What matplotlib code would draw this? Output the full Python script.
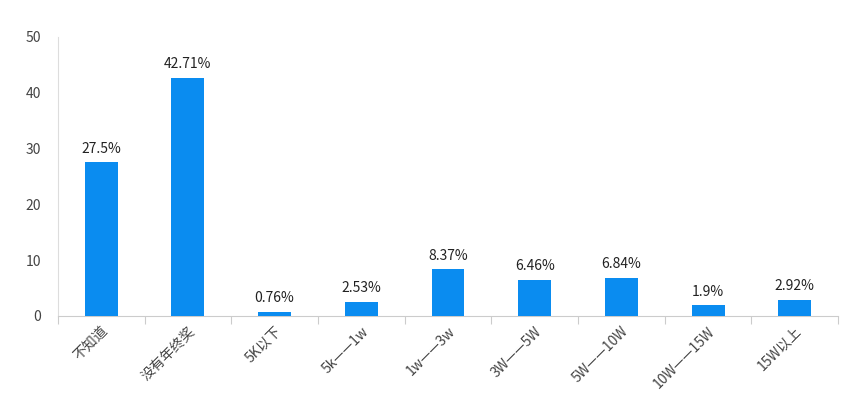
import matplotlib
matplotlib.use("Agg")
import matplotlib.pyplot as plt
import numpy as np

plt.rcParams['font.family'] = ['Noto Sans CJK SC', 'DejaVu Sans']

categories = ["不知道", "没有年终奖", "5K以下", "5k——1w", "1w——3w", "3W——5W", "5W——10W", "10W——15W", "15W以上"]
values = [27.5, 42.71, 0.76, 2.53, 8.37, 6.46, 6.84, 1.9, 2.92]
labels = ["27.5%", "42.71%", "0.76%", "2.53%", "8.37%", "6.46%", "6.84%", "1.9%", "2.92%"]

fig = plt.figure(figsize=(8.64, 4.19), dpi=100)
ax = fig.add_axes([0.067, 0.246, 0.903, 0.666])
x = np.arange(len(categories))
ax.bar(x, values, width=0.38, color="#0A8CF0", zorder=3)
for xi, v, l in zip(x, values, labels):
    ax.text(xi, v + 1.2, l, ha="center", va="bottom", fontsize=10, color="#222222")
ax.set_xlim(-0.5, len(categories) - 0.5)
ax.set_ylim(0, 50)
ax.set_yticks([0, 10, 20, 30, 40, 50])
ax.tick_params(axis='y', length=0, labelsize=10, colors="#444444", pad=12)
ax.set_xticks(np.arange(-0.5, len(categories)), minor=False)
ax.set_xticklabels([])
ax.tick_params(axis='x', which='major', length=6, color="#cccccc")
ax.set_xticks(x, minor=True)
ax.set_xticklabels(categories, minor=True, rotation=45, ha="right", rotation_mode="anchor", fontsize=10, color="#444444")
ax.tick_params(axis='x', which='minor', length=0, pad=6)
for s in ["top", "right"]:
    ax.spines[s].set_visible(False)
ax.spines["left"].set_color("#dddddd")
ax.spines["bottom"].set_color("#cccccc")
fig.savefig("out.png", dpi=100)
